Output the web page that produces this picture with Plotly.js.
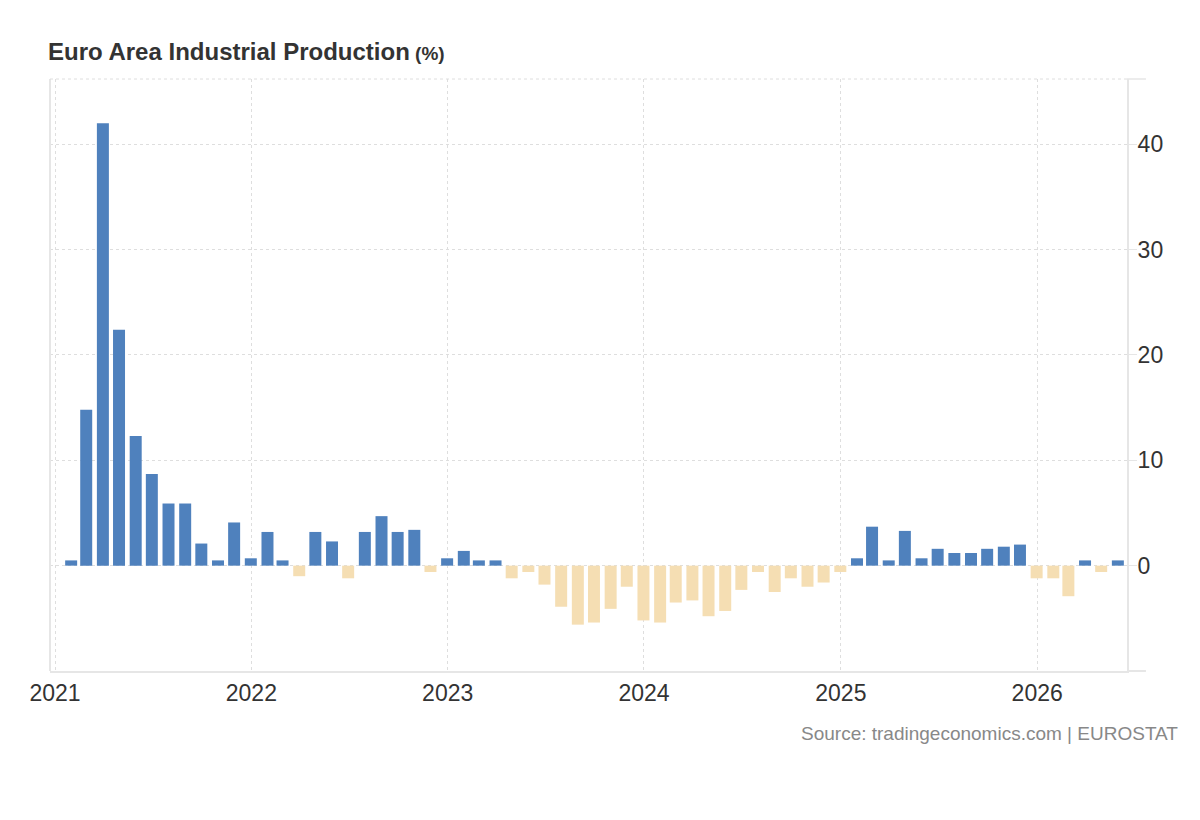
<!DOCTYPE html>
<html>
<head>
<meta charset="utf-8">
<script src="https://cdn.plot.ly/plotly-3.0.1.min.js"></script>
<style>html,body{margin:0;padding:0;background:#fff;}#chart{width:1200px;height:820px;}</style>
</head>
<body>
<div id="chart"></div>
<script>
// Month-end dates (one bar per month)
const dates = [
  "2021-01-31","2021-02-28","2021-03-31","2021-04-30","2021-05-31","2021-06-30","2021-07-31","2021-08-31","2021-09-30","2021-10-31","2021-11-30","2021-12-31",
  "2022-01-31","2022-02-28","2022-03-31","2022-04-30","2022-05-31","2022-06-30","2022-07-31","2022-08-31","2022-09-30","2022-10-31","2022-11-30","2022-12-31",
  "2023-01-31","2023-02-28","2023-03-31","2023-04-30","2023-05-31","2023-06-30","2023-07-31","2023-08-31","2023-09-30","2023-10-31","2023-11-30","2023-12-31",
  "2024-01-31","2024-02-29","2024-03-31","2024-04-30","2024-05-31","2024-06-30","2024-07-31","2024-08-31","2024-09-30","2024-10-31","2024-11-30","2024-12-31",
  "2025-01-31","2025-02-28","2025-03-31","2025-04-30","2025-05-31","2025-06-30","2025-07-31","2025-08-31","2025-09-30","2025-10-31","2025-11-30","2025-12-31",
  "2026-01-31","2026-02-28","2026-03-31","2026-04-30","2026-05-31"
];
// Industrial production, % (YoY)
const values = [
  0.5, 14.8, 42.0, 22.4, 12.3, 8.7, 5.9, 5.9, 2.1, 0.5, 4.1, 0.7,
  3.2, 0.5, -1.0, 3.2, 2.3, -1.2, 3.2, 4.7, 3.2, 3.4, -0.6, 0.7,
  1.4, 0.5, 0.5, -1.2, -0.6, -1.8, -3.9, -5.6, -5.4, -4.1, -2.0, -5.2,
  -5.4, -3.5, -3.3, -4.8, -4.3, -2.3, -0.6, -2.5, -1.2, -2.0, -1.6, -0.6,
  0.7, 3.7, 0.5, 3.3, 0.7, 1.6, 1.2, 1.2, 1.6, 1.8, 2.0, -1.2,
  -1.2, -2.9, 0.5, -0.6, 0.5
];
const xTickVals = ["2021-01-01","2022-01-01","2023-01-01","2024-01-01","2025-01-01","2026-01-01"];
const xTickText = ["2021","2022","2023","2024","2025","2026"];
const yTickVals = [0, 10, 20, 30, 40];
const yTickText = ["0", "10", "20", "30", "40"];

const POS = "#4f81bd", NEG = "#f5deb3";
const DAY = 86400000;
const FONT = "Liberation Sans, Arial, Helvetica, sans-serif";

const trace = {
  type: "bar",
  x: dates,
  y: values,
  width: dates.map(() => 22.3 * DAY),
  marker: { color: values.map(v => v >= 0 ? POS : NEG), line: { width: 0 } },
  hoverinfo: "x+y"
};

const layout = {
  width: 1200, height: 820,
  margin: { l: 50, r: 73, t: 79, b: 149 },
  paper_bgcolor: "#fff", plot_bgcolor: "#fff",
  showlegend: false,
  font: { family: FONT, color: "#333" },
  title: {
    text: "<b>Euro Area Industrial Production</b><span style='font-size:19px'><b> (%)</b></span>",
    xref: "container", x: 0.04, xanchor: "left",
    yref: "container", y: 1 - 52 / 820, yanchor: "middle",
    font: { family: FONT, size: 24, color: "#333" }
  },
  xaxis: {
    type: "date",
    range: ["2020-12-22 16:00", "2026-06-17"],
    tickmode: "array", tickvals: xTickVals, ticktext: xTickText,
    showgrid: true, gridcolor: "#dedede", griddash: "dot", gridwidth: 1,
    showline: true, linecolor: "#e6e6e6", linewidth: 2,
    ticks: "",
    zeroline: false,
    tickfont: { family: FONT, size: 23, color: "#333" }
  },
  yaxis: {
    side: "right",
    range: [-10, 46.2],
    tickmode: "array", tickvals: yTickVals, ticktext: yTickText,
    showgrid: true, gridcolor: "#dedede", griddash: "dot", gridwidth: 1,
    showline: true, linecolor: "#e6e6e6", linewidth: 2,
    ticks: "outside", ticklen: 8, tickcolor: "#e6e6e6", tickwidth: 1,
    ticklabelstandoff: -4,
    zeroline: false,
    tickfont: { family: FONT, size: 23, color: "#333" }
  },
  shapes: [
    { type: "line", xref: "paper", yref: "paper", x0: 0, x1: 0, y0: 0, y1: 1, line: { color: "#e6e6e6", width: 2 } },
    { type: "line", xref: "paper", yref: "paper", x0: 0, x1: 1, y0: 1, y1: 1, line: { color: "#dedede", width: 1, dash: "dot" } },
    { type: "line", xref: "paper", yref: "paper", x0: 1, x1: 1.0176, y0: 1, y1: 1, line: { color: "#e6e6e6", width: 1.5 } },
    { type: "line", xref: "paper", yref: "paper", x0: 1, x1: 1.0176, y0: 0, y1: 0, line: { color: "#e6e6e6", width: 2 } }
  ],
  annotations: [
    {
      text: "Source: tradingeconomics.com | EUROSTAT",
      xref: "paper", yref: "paper",
      x: (1180 - 50) / 1077, xanchor: "right",
      y: (670.7 - 733) / 591.7, yanchor: "middle",
      showarrow: false,
      font: { family: FONT, size: 19, color: "#888" }
    }
  ]
};

Plotly.newPlot("chart", [trace], layout, { displayModeBar: false, staticPlot: true });
</script>
</body>
</html>
